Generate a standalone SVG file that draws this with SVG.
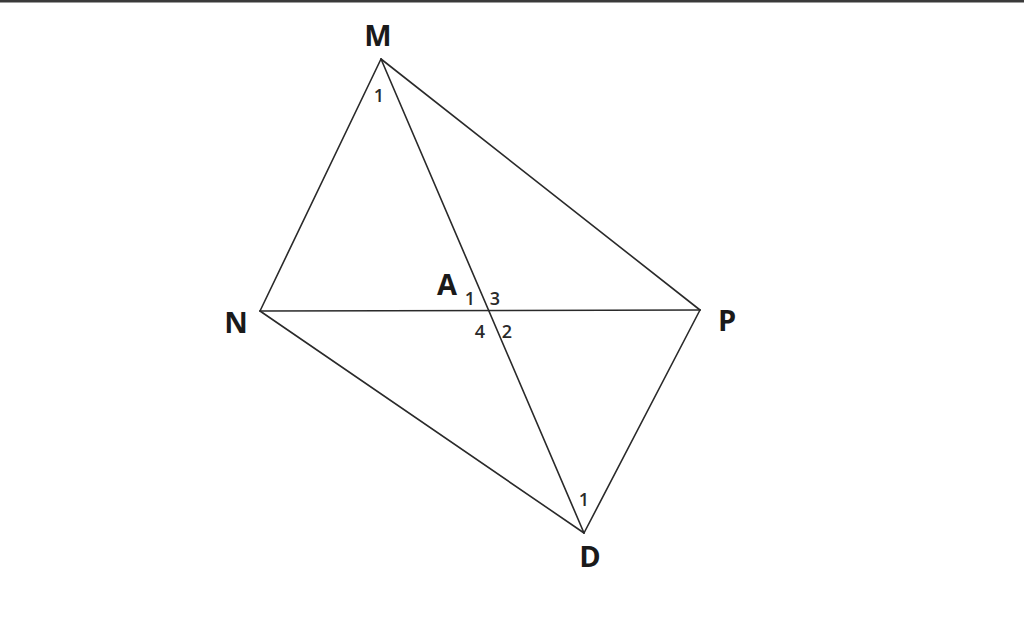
<svg xmlns="http://www.w3.org/2000/svg" width="1024" height="641" viewBox="0 0 1024 641">
<style>
.edge{stroke:#2a2a2a;stroke-width:1.6;fill:none;stroke-linecap:round}
.lbl{font-family:"Open Sans","Liberation Sans",sans-serif;font-weight:bold;font-size:29px;fill:#1a1a1a;text-anchor:middle}
.num{font-family:"Open Sans","Liberation Sans",sans-serif;font-weight:600;font-size:18px;fill:#2a2a2a;text-anchor:middle}
</style>
<rect x="0" y="0" width="1024" height="641" fill="#ffffff"/>
<rect x="0" y="0" width="1024" height="2.5" fill="#3a3a3a"/>
<g id="connectors">
<line class="edge" x1="381" y1="59" x2="260" y2="311"/>
<line class="edge" x1="381" y1="59" x2="700" y2="310"/>
<line class="edge" x1="381" y1="59" x2="584" y2="533"/>
<line class="edge" x1="260" y1="311" x2="700" y2="310"/>
<line class="edge" x1="260" y1="311" x2="584" y2="533"/>
<line class="edge" x1="700" y1="310" x2="584" y2="533"/>
</g>
<g id="node-M">
<text class="lbl" x="378" y="46">M</text>
<text class="num" x="379" y="102">1</text>
</g>
<g id="node-N">
<text class="lbl" x="236" y="333">N</text>
</g>
<g id="node-P">
<text class="lbl" x="727" y="331">P</text>
</g>
<g id="node-D">
<text class="lbl" x="590" y="567">D</text>
<text class="num" x="584" y="506">1</text>
</g>
<g id="node-A">
<text class="lbl" x="447" y="295">A</text>
<text class="num" x="470" y="305">1</text>
<text class="num" x="495" y="305">3</text>
<text class="num" x="480" y="338">4</text>
<text class="num" x="507" y="338">2</text>
</g>
</svg>
